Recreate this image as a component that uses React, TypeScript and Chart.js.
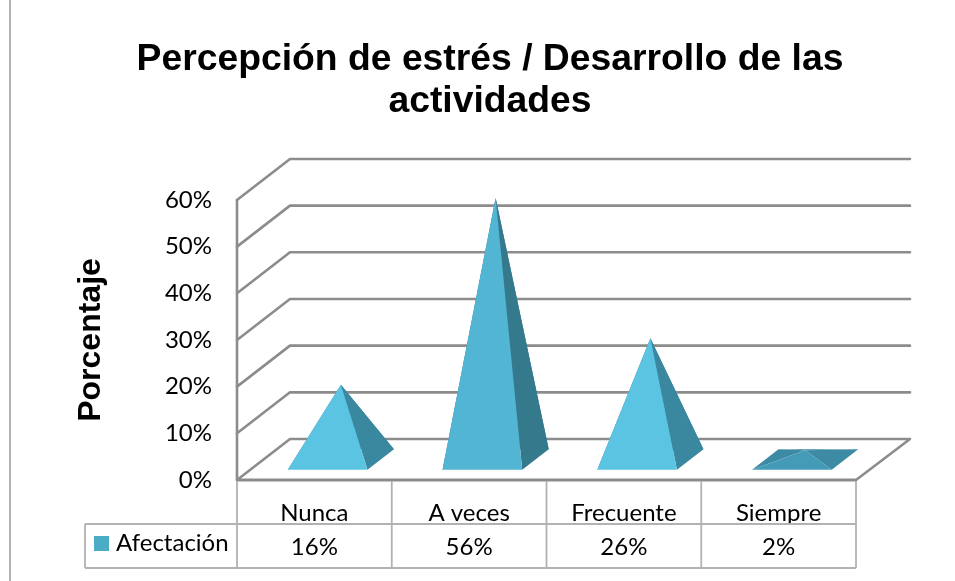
import React, { useEffect, useRef } from "react";
import { Chart, registerables } from "chart.js";

Chart.register(...registerables);

const categories = ["Nunca", "A veces", "Frecuente", "Siempre"];
const seriesName = "Afectación";
const values = [0.16, 0.56, 0.26, 0.02];
const frontColors = ["#5AC4E2", "#52B5D4", "#5AC4E2", "#449BB7"];
const sideColors = ["#3A87A0", "#35798D", "#3A87A0", "#3C8AA3"];
const titleLines = ["Percepción de estrés / Desarrollo de las", "actividades"];
const yTitle = "Porcentaje";

const GRID = "#8c8c8c";
const TABLE = "#b2b2b2";
const DEPTH_X = 53;
const DEPTH_Y = 41;
const TABLE_TOP = 524;
const TABLE_BOTTOM = 568;
const TABLE_LEFT = 85;
const LABEL_FONT = "24px Lato";

function line(ctx: CanvasRenderingContext2D, pts: number[][], color: string, w: number) {
  ctx.strokeStyle = color;
  ctx.lineWidth = w;
  ctx.beginPath();
  pts.forEach((p, i) => (i ? ctx.lineTo(p[0], p[1]) : ctx.moveTo(p[0], p[1])));
  ctx.stroke();
}
function poly(ctx: CanvasRenderingContext2D, pts: number[][], color: string) {
  ctx.fillStyle = color;
  ctx.beginPath();
  pts.forEach((p, i) => (i ? ctx.lineTo(p[0], p[1]) : ctx.moveTo(p[0], p[1])));
  ctx.closePath();
  ctx.fill();
}

const scene = {
  id: "scene",
  afterLayout(chart: any) {
    if (chart.titleBlock) {
      chart.titleBlock.left = 25;
      chart.titleBlock.right = 955;
    }
  },
  beforeDatasetsDraw(chart: any) {
    const { ctx, chartArea: a, scales } = chart;
    ctx.save();
    ctx.lineCap = "round";
    ctx.lineJoin = "round";
    line(ctx, [[10, 0], [10, chart.height]], "#b4b4b4", 2);
    const y = scales.y;
    y.ticks.forEach((t: any, i: number) => {
      const py = y.getPixelForValue(t.value);
      if (i === 0) {
        line(
          ctx,
          [[a.left, py], [a.left + DEPTH_X, py - DEPTH_Y], [a.right + DEPTH_X + 1, py - DEPTH_Y], [a.right, py]],
          GRID,
          2.6
        );
      } else {
        line(ctx, [[a.left, py], [a.left + DEPTH_X, py - DEPTH_Y], [a.right + DEPTH_X + 1, py - DEPTH_Y]], GRID, 2.6);
      }
    });
    line(ctx, [[a.left, a.top], [a.left, a.bottom]], GRID, 2.6);
    ctx.restore();
  },
  afterDatasetsDraw(chart: any) {
    const { ctx } = chart;
    const bars = chart.getDatasetMeta(0).data;
    ctx.save();
    bars.forEach((b: any, i: number) => {
      const half = b.width / 2;
      const dx = DEPTH_X / 4;
      const dy = DEPTH_Y / 4;
      const fy = b.base - dy;
      const by = b.base - 3 * dy;
      const fl = [b.x - half + dx, fy];
      const fr = [b.x + half + dx, fy];
      const br = [b.x + half + 3 * dx, by];
      const bl = [b.x - half + 3 * dx, by];
      const apex = [b.x + 2 * dx, b.y - 2 * dy];
      poly(ctx, [fl, bl, apex], sideColors[i]);
      poly(ctx, [bl, br, apex], sideColors[i]);
      poly(ctx, [fr, br, apex], sideColors[i]);
      poly(ctx, [fl, fr, apex], frontColors[i]);
    });
    ctx.restore();
  },
  afterDraw(chart: any) {
    const { ctx, chartArea: a, scales } = chart;
    const x = scales.x;
    const step = (a.right - a.left) / categories.length;
    ctx.save();
    // front floor edge
    line(ctx, [[a.left, a.bottom], [a.right, a.bottom]], GRID, 2.8);
    // data table
    for (let i = 0; i <= categories.length; i++) {
      const vx = a.left + i * step;
      line(ctx, [[vx, a.bottom + 1], [vx, TABLE_BOTTOM]], TABLE, 1.8);
    }
    line(ctx, [[TABLE_LEFT, TABLE_TOP], [a.right, TABLE_TOP]], TABLE, 1.8);
    line(ctx, [[TABLE_LEFT, TABLE_BOTTOM], [a.right, TABLE_BOTTOM]], TABLE, 1.8);
    line(ctx, [[TABLE_LEFT, TABLE_TOP], [TABLE_LEFT, TABLE_BOTTOM]], TABLE, 1.8);
    ctx.fillStyle = "#000";
    ctx.font = LABEL_FONT;
    ctx.textAlign = "center";
    ctx.textBaseline = "alphabetic";
    values.forEach((v, i) => {
      ctx.fillText(Math.round(v * 100) + "%", x.getPixelForValue(i), 555);
    });
    ctx.fillStyle = "#4BACC6";
    ctx.fillRect(94, 536, 15, 15);
    ctx.fillStyle = "#000";
    ctx.textAlign = "left";
    ctx.fillText(seriesName, 116, 551);
    ctx.restore();
  },
};

export default function App() {
  const ref = useRef<HTMLCanvasElement>(null);
  useEffect(() => {
    const chart = new Chart(ref.current!, {
      type: "bar",
      data: {
        labels: categories,
        datasets: [
          {
            label: seriesName,
            data: values,
            backgroundColor: "rgba(0,0,0,0)",
            borderWidth: 0,
            categoryPercentage: 1,
            barPercentage: 0.515,
          },
        ],
      },
      plugins: [scene],
      options: {
        responsive: false,
        animation: false,
        layout: { padding: { left: 0, top: 0, bottom: 0, right: 99 } },
        plugins: {
          legend: { display: false },
          tooltip: { enabled: false },
          title: {
            display: true,
            text: titleLines,
            color: "#000",
            font: { family: "'Liberation Sans'", size: 37.3, weight: "bold", lineHeight: 1.12 },
            padding: { top: 39, bottom: 77.4 },
          },
        },
        scales: {
          x: {
            grid: { display: false, drawTicks: false },
            border: { display: false },
            ticks: { color: "#000", font: { family: "Lato", size: 24 }, padding: 19, maxRotation: 0, autoSkip: false },
            afterFit(s: any) {
              s.height = 101;
            },
          },
          y: {
            min: 0,
            max: 0.6,
            grid: { display: false, drawTicks: false },
            border: { display: false },
            ticks: {
              stepSize: 0.1,
              color: "#000",
              font: { family: "Lato", size: 24 },
              padding: 25,
              callback: (v: any) => Math.round(Number(v) * 100) + "%",
            },
            title: {
              display: true,
              text: yTitle,
              color: "#000",
              font: { family: "'Liberation Sans'", size: 32, weight: "bold" },
              padding: { top: 72, bottom: 0 },
            },
            afterFit(s: any) {
              s.width = 237;
            },
          },
        },
      } as any,
    });
    return () => chart.destroy();
  }, []);
  return (
    <div style={{ position: "fixed", left: 0, top: 0, width: 955, height: 581, background: "#fff" }}>
      <canvas ref={ref} width={955} height={581} style={{ display: "block" }} />
    </div>
  );
}
